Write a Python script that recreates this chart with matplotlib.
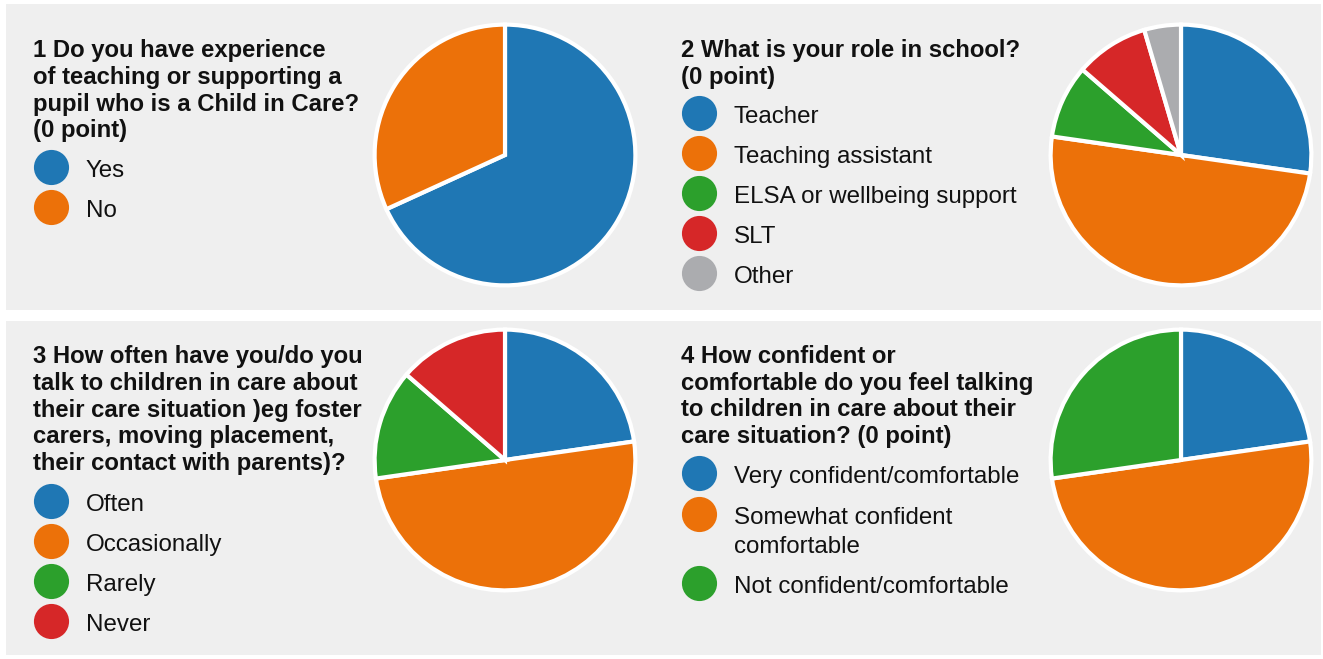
import matplotlib
matplotlib.use("Agg")
import matplotlib.pyplot as plt
from matplotlib.patches import Rectangle

plt.rcParams['font.family'] = ['Liberation Sans', 'DejaVu Sans']

# colours used by the survey tool
BLUE = "#1f77b4"
ORANGE = "#ec7109"
GREEN = "#2ca02c"
RED = "#d62728"
GREY = "#abacaf"
BG = "#efefef"

# question 1
q1_title = ["1 Do you have experience", "of teaching or supporting a",
            "pupil who is a Child in Care?", "(0 point)"]
q1_labels = ["Yes", "No"]
q1_counts = [15, 7]

# question 2
q2_title = ["2 What is your role in school?", "(0 point)"]
q2_labels = ["Teacher", "Teaching assistant", "ELSA or wellbeing support", "SLT", "Other"]
q2_counts = [6, 11, 2, 2, 1]

# question 3
q3_title = ["3 How often have you/do you", "talk to children in care about",
            "their care situation )eg foster", "carers, moving placement,",
            "their contact with parents)?"]
q3_labels = ["Often", "Occasionally", "Rarely", "Never"]
q3_counts = [5, 11, 3, 3]

# question 4
q4_title = ["4 How confident or", "comfortable do you feel talking",
            "to children in care about their", "care situation? (0 point)"]
q4_labels = ["Very confident/comfortable", "Somewhat confident\ncomfortable",
             "Not confident/comfortable"]
q4_counts = [5, 11, 6]

colors = [BLUE, ORANGE, GREEN, RED, GREY]

W, H = 1323, 659
fig = plt.figure(figsize=(W / 100, H / 100), dpi=100)
fig.patch.set_facecolor("white")

# overlay axis in pixel units for panels, titles and legends
bg = fig.add_axes([0, 0, 1, 1], zorder=0)
bg.set_xlim(0, W)
bg.set_ylim(H, 0)
bg.axis("off")
bg.add_patch(Rectangle((6, 4), W - 8, 306, color=BG, lw=0))
bg.add_patch(Rectangle((6, 321), W - 8, 334, color=BG, lw=0))


def panel(title, labels, counts, tx, ty, legend_y, pie_c):
    for i, line in enumerate(title):
        bg.text(tx, ty + i * 26.6, line, fontsize=17.2, fontweight="bold",
                va="baseline", ha="left", color="#111111")
    for i, lab in enumerate(labels):
        y = legend_y[i]
        bg.scatter([tx + 18], [y], s=640, color=colors[i], lw=0, zorder=3)
        lines = lab.split("\n")
        for j, l in enumerate(lines):
            bg.text(tx + 53, y + 10 + j * 28.5, l, fontsize=17.4,
                    va="baseline", ha="left", color="#111111")
    cx, cy = pie_c
    r = 133
    ax = fig.add_axes([(cx - r) / W, 1 - (cy + r) / H, 2 * r / W, 2 * r / H], zorder=1)
    ax.pie(counts, colors=colors[:len(counts)], startangle=90, counterclock=False,
           wedgeprops=dict(edgecolor="white", linewidth=3))
    ax.set_aspect("equal")
    ax.set_xlim(-1.02, 1.02)
    ax.set_ylim(-1.02, 1.02)
    ax.axis("off")


panel(q1_title, q1_labels, q1_counts, 33, 57.3, [167, 207], (505, 155))
panel(q2_title, q2_labels, q2_counts, 681, 57.3, [113.3, 153.3, 193.3, 233.3, 273.3], (1181, 155))
panel(q3_title, q3_labels, q3_counts, 33, 363.3, [501, 541, 581, 621], (505, 460))
panel(q4_title, q4_labels, q4_counts, 681, 363.3, [473.3, 514.3, 583.3], (1181, 460))

fig.savefig("out.png", dpi=100, facecolor="white")
